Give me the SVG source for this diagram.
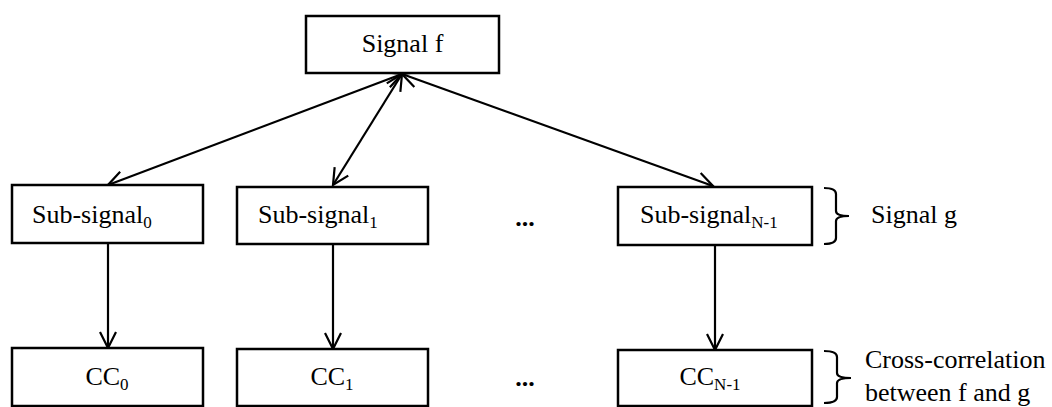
<svg xmlns="http://www.w3.org/2000/svg" width="1052" height="407" viewBox="0 0 1052 407">
<style>
.box{fill:#fff;stroke:#000;stroke-width:2.5}
.t{font-family:'Liberation Serif','DejaVu Serif',serif;font-size:26px;fill:#000}
.s{font-size:17px}
.c{stroke:#000;stroke-width:2.2;fill:none}
.br{stroke:#000;stroke-width:2.2;fill:none}
.dots{font-family:'Liberation Serif','DejaVu Serif',serif;font-size:26px;font-weight:bold}
</style>
<defs>
<marker id="ah" viewBox="0 0 20 20" refX="18" refY="10" markerWidth="20" markerHeight="20" markerUnits="userSpaceOnUse" orient="auto-start-reverse">
<path d="M2,2 L18,10 L2,18" fill="none" stroke="#000" stroke-width="2.2"/>
</marker>
</defs>
<rect width="1052" height="407" fill="#fff"/>
<g id="connectors">
<line class="c" x1="402" y1="74" x2="108" y2="185" marker-start="url(#ah)" marker-end="url(#ah)"/>
<line class="c" x1="402" y1="74" x2="333" y2="185" marker-start="url(#ah)" marker-end="url(#ah)"/>
<line class="c" x1="402" y1="74" x2="713" y2="186" marker-start="url(#ah)" marker-end="url(#ah)"/>
<line class="c" x1="108" y1="244" x2="108" y2="348" marker-end="url(#ah)"/>
<line class="c" x1="333" y1="245" x2="333" y2="349" marker-end="url(#ah)"/>
<line class="c" x1="715" y1="245" x2="715" y2="350" marker-end="url(#ah)"/>
</g>
<g id="signal-f">
<rect class="box" x="306" y="16" width="193" height="57"/>
<text class="t" x="402.5" y="52" text-anchor="middle">Signal f</text>
</g>
<g id="sub-signal-0">
<rect class="box" x="12" y="185" width="191" height="58"/>
<text class="t" x="32" y="223">Sub-signal<tspan class="s" dy="5">0</tspan></text>
</g>
<g id="sub-signal-1">
<rect class="box" x="237" y="187" width="191" height="57"/>
<text class="t" x="258" y="223">Sub-signal<tspan class="s" dy="5">1</tspan></text>
</g>
<g id="dots-1"><text class="dots" x="525" y="226" text-anchor="middle">...</text></g>
<g id="sub-signal-n1">
<rect class="box" x="618" y="187" width="194" height="58"/>
<text class="t" x="640" y="223">Sub-signal<tspan class="s" dy="5">N-1</tspan></text>
</g>
<g id="signal-g">
<path class="br" d="M824,188 Q836,188 836,194 L836,211 Q836,216 849,216 Q836,216 836,221 L836,238 Q836,244 824,244"/>
<text class="t" x="871" y="223">Signal g</text>
</g>
<g id="cc-0">
<rect class="box" x="12" y="348" width="191" height="58"/>
<text class="t" x="107" y="385" text-anchor="middle">CC<tspan class="s" dy="5">0</tspan></text>
</g>
<g id="cc-1">
<rect class="box" x="237" y="349" width="191" height="57"/>
<text class="t" x="332" y="385" text-anchor="middle">CC<tspan class="s" dy="5">1</tspan></text>
</g>
<g id="dots-2"><text class="dots" x="525" y="386" text-anchor="middle">...</text></g>
<g id="cc-n1">
<rect class="box" x="618" y="350" width="194" height="56"/>
<text class="t" x="710" y="385" text-anchor="middle">CC<tspan class="s" dy="5">N-1</tspan></text>
</g>
<g id="cross-correlation">
<path class="br" d="M824,351 Q837,351 837,357 L837,373 Q837,378 851,378 Q837,378 837,383 L837,397 Q837,403 824,403"/>
<text class="t" x="865" y="368">Cross-correlation</text>
<text class="t" x="865" y="401">between f and g</text>
</g>
</svg>
